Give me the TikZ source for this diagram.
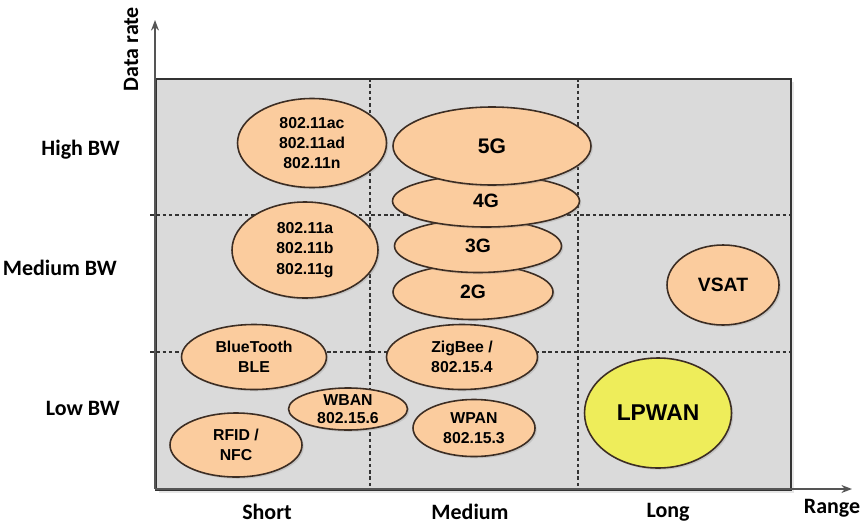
\documentclass[tikz,border=0pt]{standalone}
\usepackage{fontspec}
\setmainfont{Liberation Sans}
\newfontfamily\labelfont{Carlito}
\usetikzlibrary{positioning,arrows.meta,shapes.geometric,shadows}

\definecolor{peach}{RGB}{251,204,158}
\definecolor{lpyellow}{RGB}{238,237,90}
\definecolor{panelgray}{RGB}{218,218,218}
\definecolor{rimbrown}{RGB}{60,45,35}
\definecolor{axisgray}{RGB}{85,85,85}

\begin{document}
\begin{tikzpicture}[
  x=0.02cm, y=-0.02cm,
  tech/.style={ellipse, draw=rimbrown, line width=0.9pt, fill=peach,
               inner sep=0pt, align=center, font=\bfseries\fontsize{9}{11.5}\selectfont,
               drop shadow={opacity=0.25, shadow xshift=1pt, shadow yshift=-1pt}},
  axislabel/.style={font=\labelfont\bfseries\fontsize{12.5}{14}\selectfont},
  grid/.style={draw=black!80, line width=0.7pt, dash pattern=on 2pt off 1.6pt},
  >={Stealth[length=6pt,width=4.5pt]}
]
  \useasboundingbox (0,0) rectangle (864,524);

  % Panel and grid
  \node[draw=black!80, line width=1pt, fill=panelgray, minimum width=635*0.02cm,
        minimum height=411*0.02cm, inner sep=0pt, anchor=north west,
        drop shadow={opacity=0.2, shadow xshift=1.5pt, shadow yshift=-1.5pt}] (panel) at (155,78) {};
  \draw[grid] (370,78) -- (370,489);
  \draw[grid] (578,78) -- (578,489);
  \draw[grid] (150,215) -- (790,215);
  \draw[grid] (150,352) -- (790,352);

  % Axes
  \coordinate (origin) at (155,489);
  \coordinate (ytip) at (155,20);
  \coordinate (xtip) at (852,489);
  \draw[->, axisgray, line width=1pt] (origin) -- (ytip);
  \draw[->, axisgray, line width=1pt] (origin) -- (xtip);

  % Axis labels
  \node[axislabel, rotate=90] (rate) at (131,49) {Data rate};
  \node[axislabel, anchor=east] (high) at (126,150) {High BW};
  \node[axislabel, anchor=east] (medbw) at (123,268) {Medium BW};
  \node[axislabel, anchor=east] (low) at (126,408) {Low BW};
  \node[axislabel] (short) at (267,512) {Short};
  \node[axislabel] (medium) at (470,512) {Medium};
  \node[axislabel] (long) at (668,512) {Long};
  \node[axislabel] (range) at (832,508) {Range};

  % Short range technologies
  \node[tech, minimum width=149*0.02cm, minimum height=89*0.02cm] (wifihigh)
    at (312,143) {802.11ac\\802.11ad\\802.11n};
  \node[tech, minimum width=146*0.02cm, minimum height=96*0.02cm] (wifimed)
    at (305,250) {802.11a\\802.11b\\802.11g};
  \node[tech, minimum width=145*0.02cm, minimum height=65*0.02cm] (bt)
    at (254,357) {BlueTooth\\BLE};
  \node[tech, minimum width=132*0.02cm, minimum height=64*0.02cm] (rfid)
    at (236,445) {RFID /\\NFC};
  \node[tech, minimum width=119*0.02cm, minimum height=42*0.02cm,
        font=\bfseries\fontsize{9}{10}\selectfont] (wban)
    at (348,409) {WBAN\\802.15.6};

  % Cellular stack
  \node[tech, minimum width=160*0.02cm, minimum height=55*0.02cm,
        font=\bfseries\fontsize{11}{13}\selectfont] (gtwo) at (473,292) {2G};
  \node[tech, minimum width=167*0.02cm, minimum height=53*0.02cm,
        font=\bfseries\fontsize{11}{13}\selectfont] (gthree) at (478,246) {3G};
  \node[tech, minimum width=187*0.02cm, minimum height=52*0.02cm,
        font=\bfseries\fontsize{11}{13}\selectfont] (gfour) at (486,201) {4G};
  \node[tech, minimum width=198*0.02cm, minimum height=78*0.02cm,
        font=\bfseries\fontsize{12}{14}\selectfont] (gfive) at (492,146) {5G};

  % Medium range PANs
  \node[tech, minimum width=151*0.02cm, minimum height=65*0.02cm] (zigbee)
    at (462,357) {ZigBee /\\802.15.4};
  \node[tech, minimum width=122*0.02cm, minimum height=57*0.02cm] (wpan)
    at (474,428) {WPAN\\802.15.3};

  % Long range
  \node[tech, minimum width=112*0.02cm, minimum height=80*0.02cm,
        font=\bfseries\fontsize{11}{13}\selectfont] (vsat) at (723,285) {VSAT};
  \node[tech, fill=lpyellow, minimum width=147*0.02cm, minimum height=110*0.02cm,
        font=\bfseries\fontsize{13}{15}\selectfont] (lpwan) at (658,413) {LPWAN};
\end{tikzpicture}
\end{document}
